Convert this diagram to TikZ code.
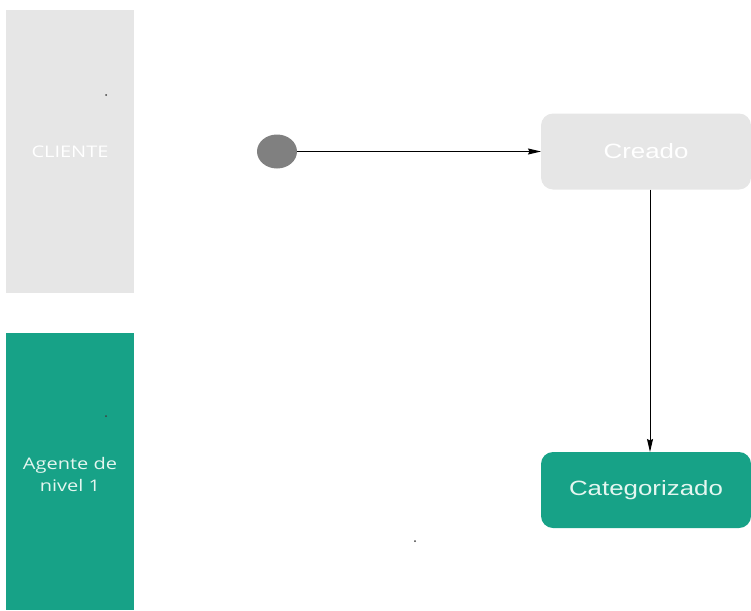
\documentclass[tikz,border=0pt]{standalone}
\usepackage{fontspec}
\setmainfont{Liberation Sans}
\newfontfamily\lanefont{Open Sans}
\usetikzlibrary{arrows.meta,shapes.geometric}
\definecolor{lanegray}{HTML}{E6E6E6}
\definecolor{teal}{HTML}{17A287}
\definecolor{startgray}{HTML}{808080}
\definecolor{minttext}{HTML}{E4F6F0}
\newcommand{\widetext}[1]{\scalebox{1.25}[1]{#1}}
\tikzset{
  lanebox/.style={rectangle, draw=none, inner sep=0pt, outer sep=0pt,
    minimum width=128pt},
  lanetext/.style={inner sep=0pt, align=center,
    font=\lanefont\fontsize{16}{22}\selectfont},
  statebox/.style={rectangle, rounded corners=12pt, draw=none, inner sep=0pt,
    outer sep=0pt, minimum width=210pt, minimum height=76pt,
    font=\fontsize{20.7}{24}\selectfont},
  initial/.style={ellipse, fill=startgray, draw=none, inner sep=0pt,
    minimum width=40pt, minimum height=34pt},
  flow/.style={draw=black, line width=1pt, -{Stealth[length=13pt,width=6pt,inset=1.5pt]}},
  speck/.style={fill=black!75, draw=none}
}
\begin{document}
\begin{tikzpicture}[x=1pt,y=-1pt]
  \useasboundingbox (0,0) rectangle (751,610);
  % swimlanes
  \node[lanebox, fill=lanegray, minimum height=283pt] (cliente) at (70,151.5) {};
  \node[lanetext, text=white] (clientelabel) at (cliente.center) {\widetext{CLIENTE}};
  \node[lanebox, fill=teal, minimum height=277pt] (agente) at (70,471.5) {};
  \node[lanetext, text=minttext] (agentelabel) at ([yshift=-5pt]agente.center)
    {\widetext{\begin{tabular}{@{}c@{}}Agente de\\nivel 1\end{tabular}}};
  % states
  \node[initial] (start) at (277,151.5) {};
  \node[statebox, fill=lanegray, text=white] (creado) at (646,151.5) {\widetext{Creado}};
  \node[statebox, fill=teal, text=minttext] (categorizado) at (646,490) {\widetext{Categorizado}};
  \coordinate (downx) at (650,0);
  % transitions
  \draw[flow] (start.east) -- (creado.west);
  \draw[flow] (creado.south -| downx) -- (categorizado.north -| downx);
  % small specks
  \fill[speck] (106,95) circle (1pt);
  \fill[speck] (106,416) circle (1pt);
  \fill[speck] (415,541) circle (1pt);
\end{tikzpicture}
\end{document}
